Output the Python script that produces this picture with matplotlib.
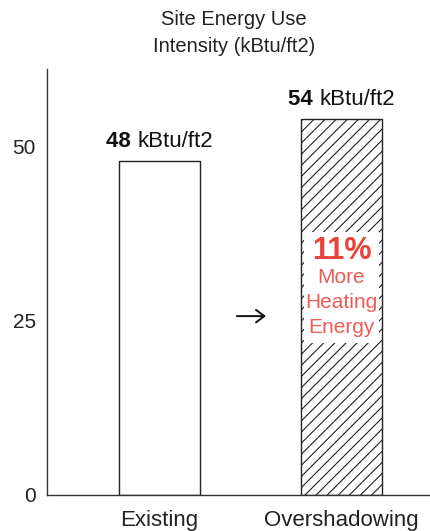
import matplotlib
matplotlib.use("Agg")
import matplotlib.pyplot as plt
from matplotlib.patches import Rectangle

plt.rcParams['font.family'] = ['Liberation Sans', 'DejaVu Sans']
plt.rcParams['hatch.linewidth'] = 0.8

categories = ["Existing", "Overshadowing"]
values = [48, 54]
hatches = ["", "///"]
yticks = [0, 25, 50]
title = "Site Energy Use\nIntensity (kBtu/ft2)"
unit = "kBtu/ft2"
pct_text = "11%"
pct_sub = "More\nHeating\nEnergy"

fig = plt.figure(figsize=(4.30, 5.31), dpi=100)
ax = fig.add_axes([0.1093, 0.0678, 0.8907, 0.8022])

x = list(range(len(categories)))
bars = ax.bar(x, values, width=0.445, color="white", edgecolor="#222222",
              linewidth=1.0)
for b, h in zip(bars, hatches):
    b.set_hatch(h)

ax.set_xlim(-0.618, 1.486)
ax.set_ylim(0, 61.2)
ax.set_yticks(yticks)
ax.set_yticklabels([str(t) for t in yticks], fontsize=15, color="#222222")
ax.set_xticks(x)
ax.set_xticklabels(categories, fontsize=16, color="#222222")
ax.tick_params(axis='both', length=0)
ax.tick_params(axis='y', pad=8)
ax.tick_params(axis='x', pad=11)
for s in ["top", "right"]:
    ax.spines[s].set_visible(False)
for s in ["left", "bottom"]:
    ax.spines[s].set_color("#333333")
    ax.spines[s].set_linewidth(1.0)

fig.text(0.544, 0.938, title, ha="center", va="center", fontsize=14.5,
         color="#222222", linespacing=1.5)

# value labels: bold number + regular unit, centered over bar
fig.canvas.draw()
renderer = fig.canvas.get_renderer()
for xi, v in zip(x, values):
    t1 = ax.annotate(f"{v} ", (xi, v), xytext=(0, 10), textcoords="offset points",
                     ha="left", va="baseline", fontsize=16, fontweight="bold",
                     color="#111111")
    t2 = ax.annotate(unit, (xi, v), xytext=(0, 10), textcoords="offset points",
                     ha="left", va="baseline", fontsize=16, color="#111111")
    w1 = t1.get_window_extent(renderer).width
    w2 = t2.get_window_extent(renderer).width
    total_pt = (w1 + w2) * 72.0 / fig.dpi
    w1_pt = w1 * 72.0 / fig.dpi
    t1.set_position((-total_pt / 2, 10))
    t2.set_position((-total_pt / 2 + w1_pt, 10))

# white box with red annotation inside the second bar
ax.add_patch(Rectangle((1 - 0.205, 21.8), 0.41, 16.0, facecolor="white",
                       edgecolor="none", zorder=3))
ax.text(1, 35.0, pct_text, ha="center", va="center", fontsize=22,
        fontweight="bold", color="#e8433b", zorder=4)
ax.text(1, 27.6, pct_sub, ha="center", va="center", fontsize=15,
        color="#ef5b55", linespacing=1.4, zorder=4)

# arrow between bars
ax.annotate("", xy=(0.60, 25.7), xytext=(0.41, 25.7),
            arrowprops=dict(arrowstyle="->,head_length=0.6,head_width=0.45",
                            color="#111111", lw=1.4))

fig.savefig("out.png", dpi=100)
